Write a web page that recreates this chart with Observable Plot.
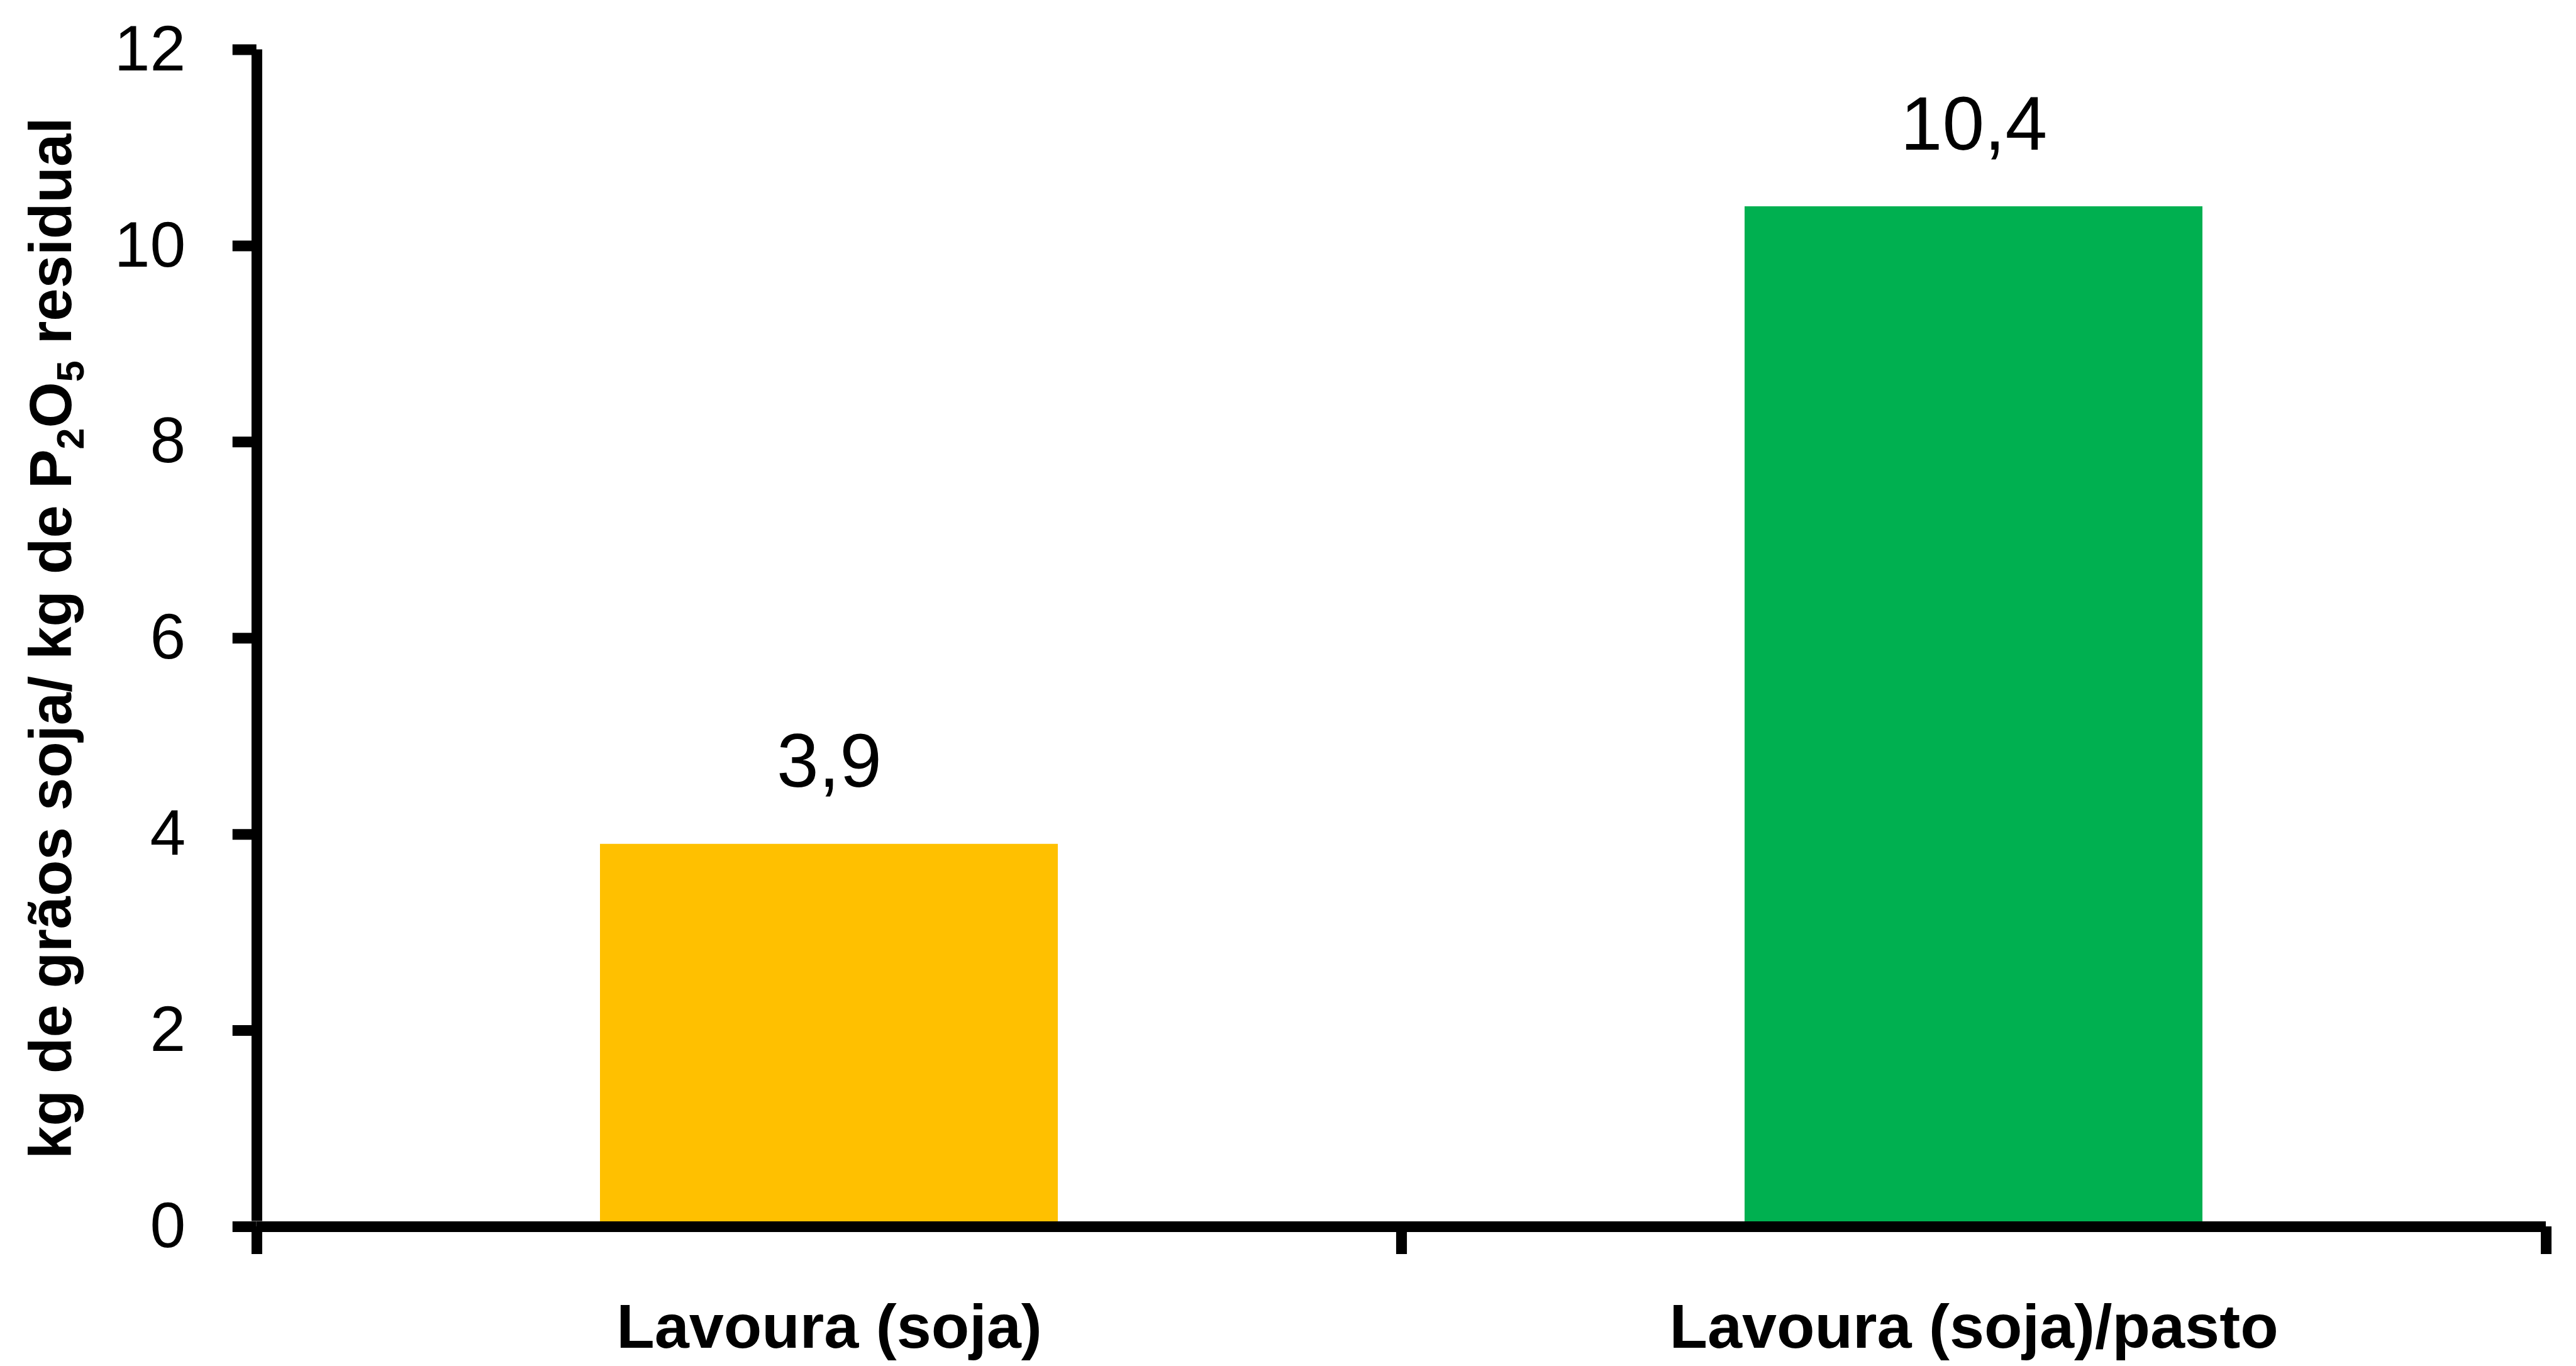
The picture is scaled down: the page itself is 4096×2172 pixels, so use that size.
<!DOCTYPE html>
<html>
<head>
<meta charset="utf-8">
<script src="https://cdn.jsdelivr.net/npm/d3@7"></script>
<script src="https://cdn.jsdelivr.net/npm/@observablehq/plot@0.6"></script>
<style>
  html, body { margin: 0; padding: 0; background: #ffffff; color: #000000; }
  #chart svg { display: block; }
</style>
</head>
<body>
<div id="chart"></div>
<script>
// ---- data ----
const categories = ["Lavoura (soja)", "Lavoura (soja)/pasto"];
const values = [3.9, 10.4];
const valueLabels = ["3,9", "10,4"];
const colors = ["#FFC000", "#00B050"];
const yTicks = [0, 2, 4, 6, 8, 10, 12];
const yTitle = "kg de grãos soja/ kg de P2O5 residual";
const yTitleParts = [
  ["kg de grãos soja/ kg de P", false],
  ["2", true],
  ["O", false],
  ["5", true],
  [" residual", false]
];

const data = categories.map((c, i) => ({category: c, value: values[i], label: valueLabels[i]}));

// ---- layout ----
const W = 4096, H = 2172;
const mL = 407.7, mR = 48, mT = 78.5, mB = 222;
const step = (W - mL - mR) / categories.length;
const axisW = 17;
const font = "'Liberation Sans', Arial, sans-serif";

const chart = Plot.plot({
  width: W,
  height: H,
  marginLeft: mL,
  marginRight: mR,
  marginTop: mT,
  marginBottom: mB,
  style: {fontFamily: font, background: "#ffffff", color: "#000000"},
  x: {domain: categories, paddingInner: 0.6, paddingOuter: 0.3, align: 0.5},
  y: {domain: [0, 12]},
  color: {domain: categories, range: colors},
  marks: [
    Plot.barY(data, {x: "category", y: "value", fill: "category"}),
    Plot.text(data, {x: "category", y: "value", text: "label", lineAnchor: "bottom", dy: -91, fontSize: 120, fill: "#000000"}),
    Plot.ruleY([0], {stroke: "#000000", strokeWidth: axisW}),
    // y-axis line at the left edge of the first band's step
    Plot.ruleX([categories[0]], {dx: -step / 2, y1: 0, y2: 12, insetTop: -axisW / 2, stroke: "#000000", strokeWidth: axisW}),
    Plot.axisY({ticks: yTicks, tickSize: 38, tickPadding: 75, stroke: "#000000", strokeWidth: axisW, fontSize: 102, label: null, tickFormat: d => String(d), fill: "#000000"}),
    Plot.axisX({tickSize: 0, tickPadding: 122, fontSize: 99, fontWeight: "bold", label: null, fill: "#000000"}),
    Plot.axisX({tickSize: 44, text: null, dx: -step / 2, stroke: "#000000", strokeWidth: axisW, label: null}),
    Plot.axisX({tickSize: 44, text: null, dx: step / 2, stroke: "#000000", strokeWidth: axisW, label: null}),
    Plot.text([yTitle], {frameAnchor: "left", textAnchor: "middle", rotate: -90, dx: -(mL - 112), lineAnchor: "bottom", fontSize: 94, fontWeight: "bold", fill: "#000000"})
  ]
});

document.getElementById("chart").appendChild(chart);

// subscripts in the y-axis title
d3.select(chart).selectAll("text").filter(function() { return this.textContent === yTitle; }).each(function() {
  const t = d3.select(this);
  t.text(null);
  const shift = 20;
  let lowered = false;
  yTitleParts.forEach(([s, sub]) => {
    const ts = t.append("tspan").text(s);
    if (sub && !lowered) { ts.attr("dy", shift).attr("font-size", "65%"); lowered = true; }
    else if (sub) { ts.attr("font-size", "65%"); }
    else if (!sub && lowered) { ts.attr("dy", -shift); lowered = false; }
  });
});
</script>
</body>
</html>
